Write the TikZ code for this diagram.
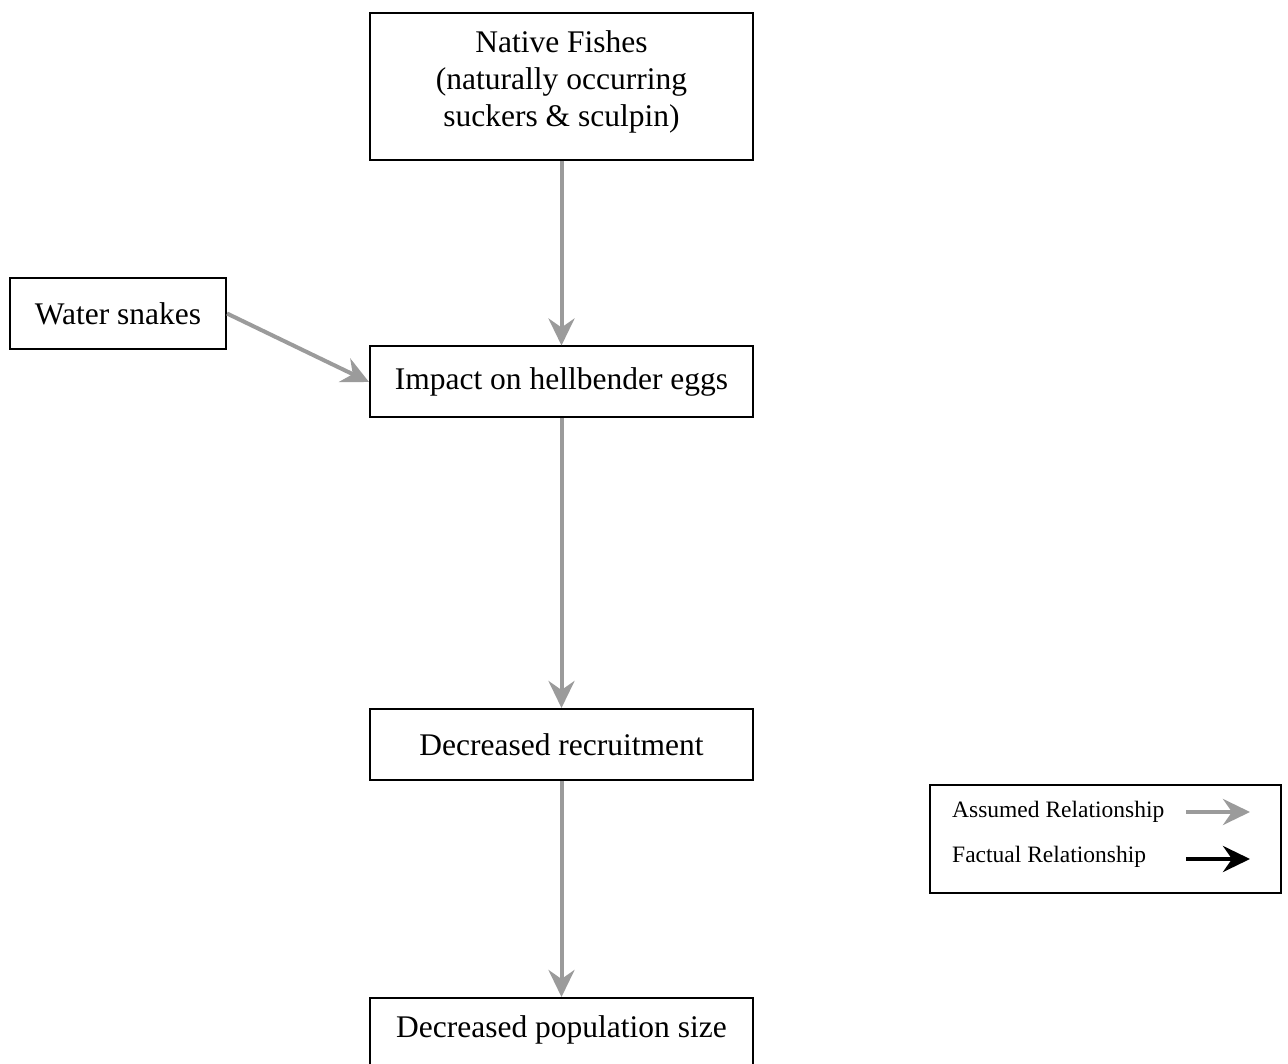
\documentclass[tikz,border=0pt]{standalone}
\usepackage{fontspec}
\setmainfont{Liberation Serif}
\usetikzlibrary{arrows.meta}
\definecolor{arrgray}{RGB}{155,155,155}
\tikzset{
  box/.style={draw=black, line width=2pt, rectangle, inner sep=0pt, align=center,
    font=\fontsize{31.5}{37}\selectfont},
  assumed/.style={draw=arrgray, line width=4pt,
    -{Stealth[length=27pt, width=26pt, inset=9pt]}},
  factual/.style={draw=black, line width=4pt,
    -{Stealth[length=27pt, width=26pt, inset=9pt]}},
  legtext/.style={anchor=base west, inner sep=0pt, font=\fontsize{23.5}{28}\selectfont}
}
\begin{document}
\begin{tikzpicture}[x=1pt, y=-1pt]
\useasboundingbox (0,0) rectangle (1288,1064);
\fill[white] (0,0) rectangle (1288,1064);
\node[box, minimum width=383pt, minimum height=147pt] (nf) at (561.5,86.5)
  {Native Fishes\\(naturally occurring\\suckers \& sculpin)\rule[-15pt]{0pt}{1pt}};
\node[box, minimum width=216pt, minimum height=71pt] (ws) at (118,313.5) {Water snakes};
\node[box, minimum width=383pt, minimum height=71pt] (imp) at (561.5,382) {Impact on hellbender eggs};
\node[box, minimum width=383pt, minimum height=71pt] (rec) at (561.5,744.5) {Decreased recruitment};
\node[box, minimum width=383pt, minimum height=71pt] (pop) at (561.5,1033.5) {Decreased population size\rule[-13pt]{0pt}{1pt}};
\draw[assumed] (nf.south) -- (imp.north);
\draw[assumed] (ws.east) -- (imp.west);
\draw[assumed] (imp.south) -- (rec.north);
\draw[assumed] (rec.south) -- (pop.north);
% legend
\node[draw=black, line width=2pt, minimum width=351pt, minimum height=108pt, inner sep=0pt] (leg) at (1105.5,839) {};
\node[legtext] (la) at (952,817) {Assumed Relationship};
\node[legtext] (lf) at (952,862) {Factual Relationship};
\coordinate (a1) at (1186,812);
\coordinate (a2) at (1250,812);
\coordinate (f1) at (1186,859);
\coordinate (f2) at (1250,859);
\draw[assumed] (a1) -- (a2);
\draw[factual] (f1) -- (f2);
\end{tikzpicture}
\end{document}
